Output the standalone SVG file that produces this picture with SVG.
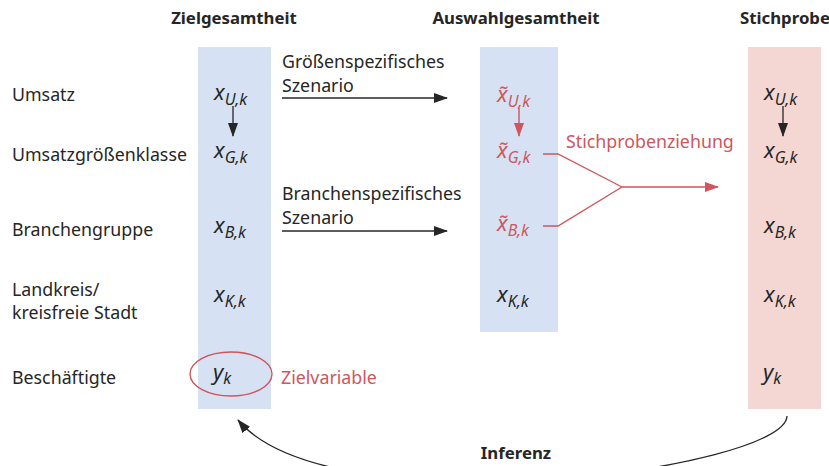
<svg xmlns="http://www.w3.org/2000/svg" width="829" height="466" viewBox="0 0 829 466">
<style>
text{font-family:"Noto Sans","Open Sans","DejaVu Sans",sans-serif;fill:#262626}
.lbl{font-size:17.8px}
.hd{font-size:16.8px;font-weight:bold;text-anchor:middle}
.m{font-size:22px;font-style:italic}
.s{font-size:16px;font-style:italic}
.red{fill:#d0555d}
.ln{fill:none;stroke:#262626;stroke-width:1.3}
.rln{fill:none;stroke:#d0555d;stroke-width:1.4}
</style>
<defs>
<marker id="ah" markerWidth="14" markerHeight="10" refX="13" refY="5" orient="auto" markerUnits="userSpaceOnUse"><path d="M0,0 L14,5 L0,10 z" fill="#262626"/></marker>
<marker id="rh" markerWidth="14" markerHeight="10" refX="13" refY="5" orient="auto" markerUnits="userSpaceOnUse"><path d="M0,0 L14,5 L0,10 z" fill="#d0555d"/></marker>
</defs>
<rect x="198" y="47" width="73" height="362" fill="#d6e2f3"/>
<rect x="480" y="47" width="78" height="285" fill="#d6e2f3"/>
<rect x="748" y="47" width="73" height="362" fill="#f4d6d2"/>
<g id="headers">
<text class="hd" x="234" y="24">Zielgesamtheit</text>
<text class="hd" x="516" y="24">Auswahlgesamtheit</text>
<text class="hd" x="785" y="24">Stichprobe</text>
</g>
<g id="rows">
<text class="lbl" x="12" y="101">Umsatz</text>
<text class="lbl" x="12" y="161">Umsatzgrößenklasse</text>
<text class="lbl" x="12" y="236">Branchengruppe</text>
<text class="lbl" x="12" y="296">Landkreis/</text>
<text class="lbl" x="12" y="319">kreisfreie Stadt</text>
<text class="lbl" x="12" y="384">Beschäftigte</text>
</g>
<g id="ziel">
<text class="m" x="214" y="100">x<tspan class="s" dy="5">U,k</tspan></text>
<text class="m" x="214" y="158">x<tspan class="s" dy="5">G,k</tspan></text>
<text class="m" x="214" y="233">x<tspan class="s" dy="5">B,k</tspan></text>
<text class="m" x="214" y="302">x<tspan class="s" dy="5">K,k</tspan></text>
<text class="m" x="213" y="380">y<tspan class="s" dy="4">k</tspan></text>
<ellipse cx="231" cy="374" rx="41" ry="22" fill="none" stroke="#d0555d" stroke-width="1.4"/>
<text class="lbl red" x="281" y="384">Zielvariable</text>
</g>
<g id="auswahl">
<text class="m red" x="497" y="102">x̃<tspan class="s red" dy="5">U,k</tspan></text>
<text class="m red" x="497" y="158">x̃<tspan class="s red" dy="5">G,k</tspan></text>
<text class="m red" x="497" y="231">x̃<tspan class="s red" dy="5">B,k</tspan></text>
<text class="m" x="497" y="302">x<tspan class="s" dy="5">K,k</tspan></text>
</g>
<g id="stichprobe">
<text class="m" x="764" y="100">x<tspan class="s" dy="5">U,k</tspan></text>
<text class="m" x="764" y="158">x<tspan class="s" dy="5">G,k</tspan></text>
<text class="m" x="764" y="233">x<tspan class="s" dy="5">B,k</tspan></text>
<text class="m" x="764" y="302">x<tspan class="s" dy="5">K,k</tspan></text>
<text class="m" x="763" y="380">y<tspan class="s" dy="4">k</tspan></text>
</g>
<g id="connectors">
<line class="ln" x1="233" y1="106" x2="233" y2="136" marker-end="url(#ah)"/>
<line class="rln" x1="519" y1="108" x2="519" y2="136" marker-end="url(#rh)"/>
<line class="ln" x1="783" y1="106" x2="783" y2="136" marker-end="url(#ah)"/>
<text class="lbl" x="282" y="68">Größenspezifisches</text>
<text class="lbl" x="282" y="92">Szenario</text>
<line class="ln" x1="282" y1="98" x2="447" y2="98" marker-end="url(#ah)"/>
<text class="lbl" x="282" y="200">Branchenspezifisches</text>
<text class="lbl" x="282" y="224">Szenario</text>
<line class="ln" x1="282" y1="231" x2="447" y2="231" marker-end="url(#ah)"/>
<text class="lbl red" x="566" y="148">Stichprobenziehung</text>
<polyline class="rln" points="543,154 558,154 622,187"/>
<polyline class="rln" points="543,226 558,226 622,187"/>
<line class="rln" x1="622" y1="187" x2="718" y2="187" marker-end="url(#rh)"/>
<path class="ln" d="M787,416 C786,470 330,530 238,420" marker-end="url(#ah)"/>
<text class="hd" x="516" y="459">Inferenz</text>
</g>
</svg>
